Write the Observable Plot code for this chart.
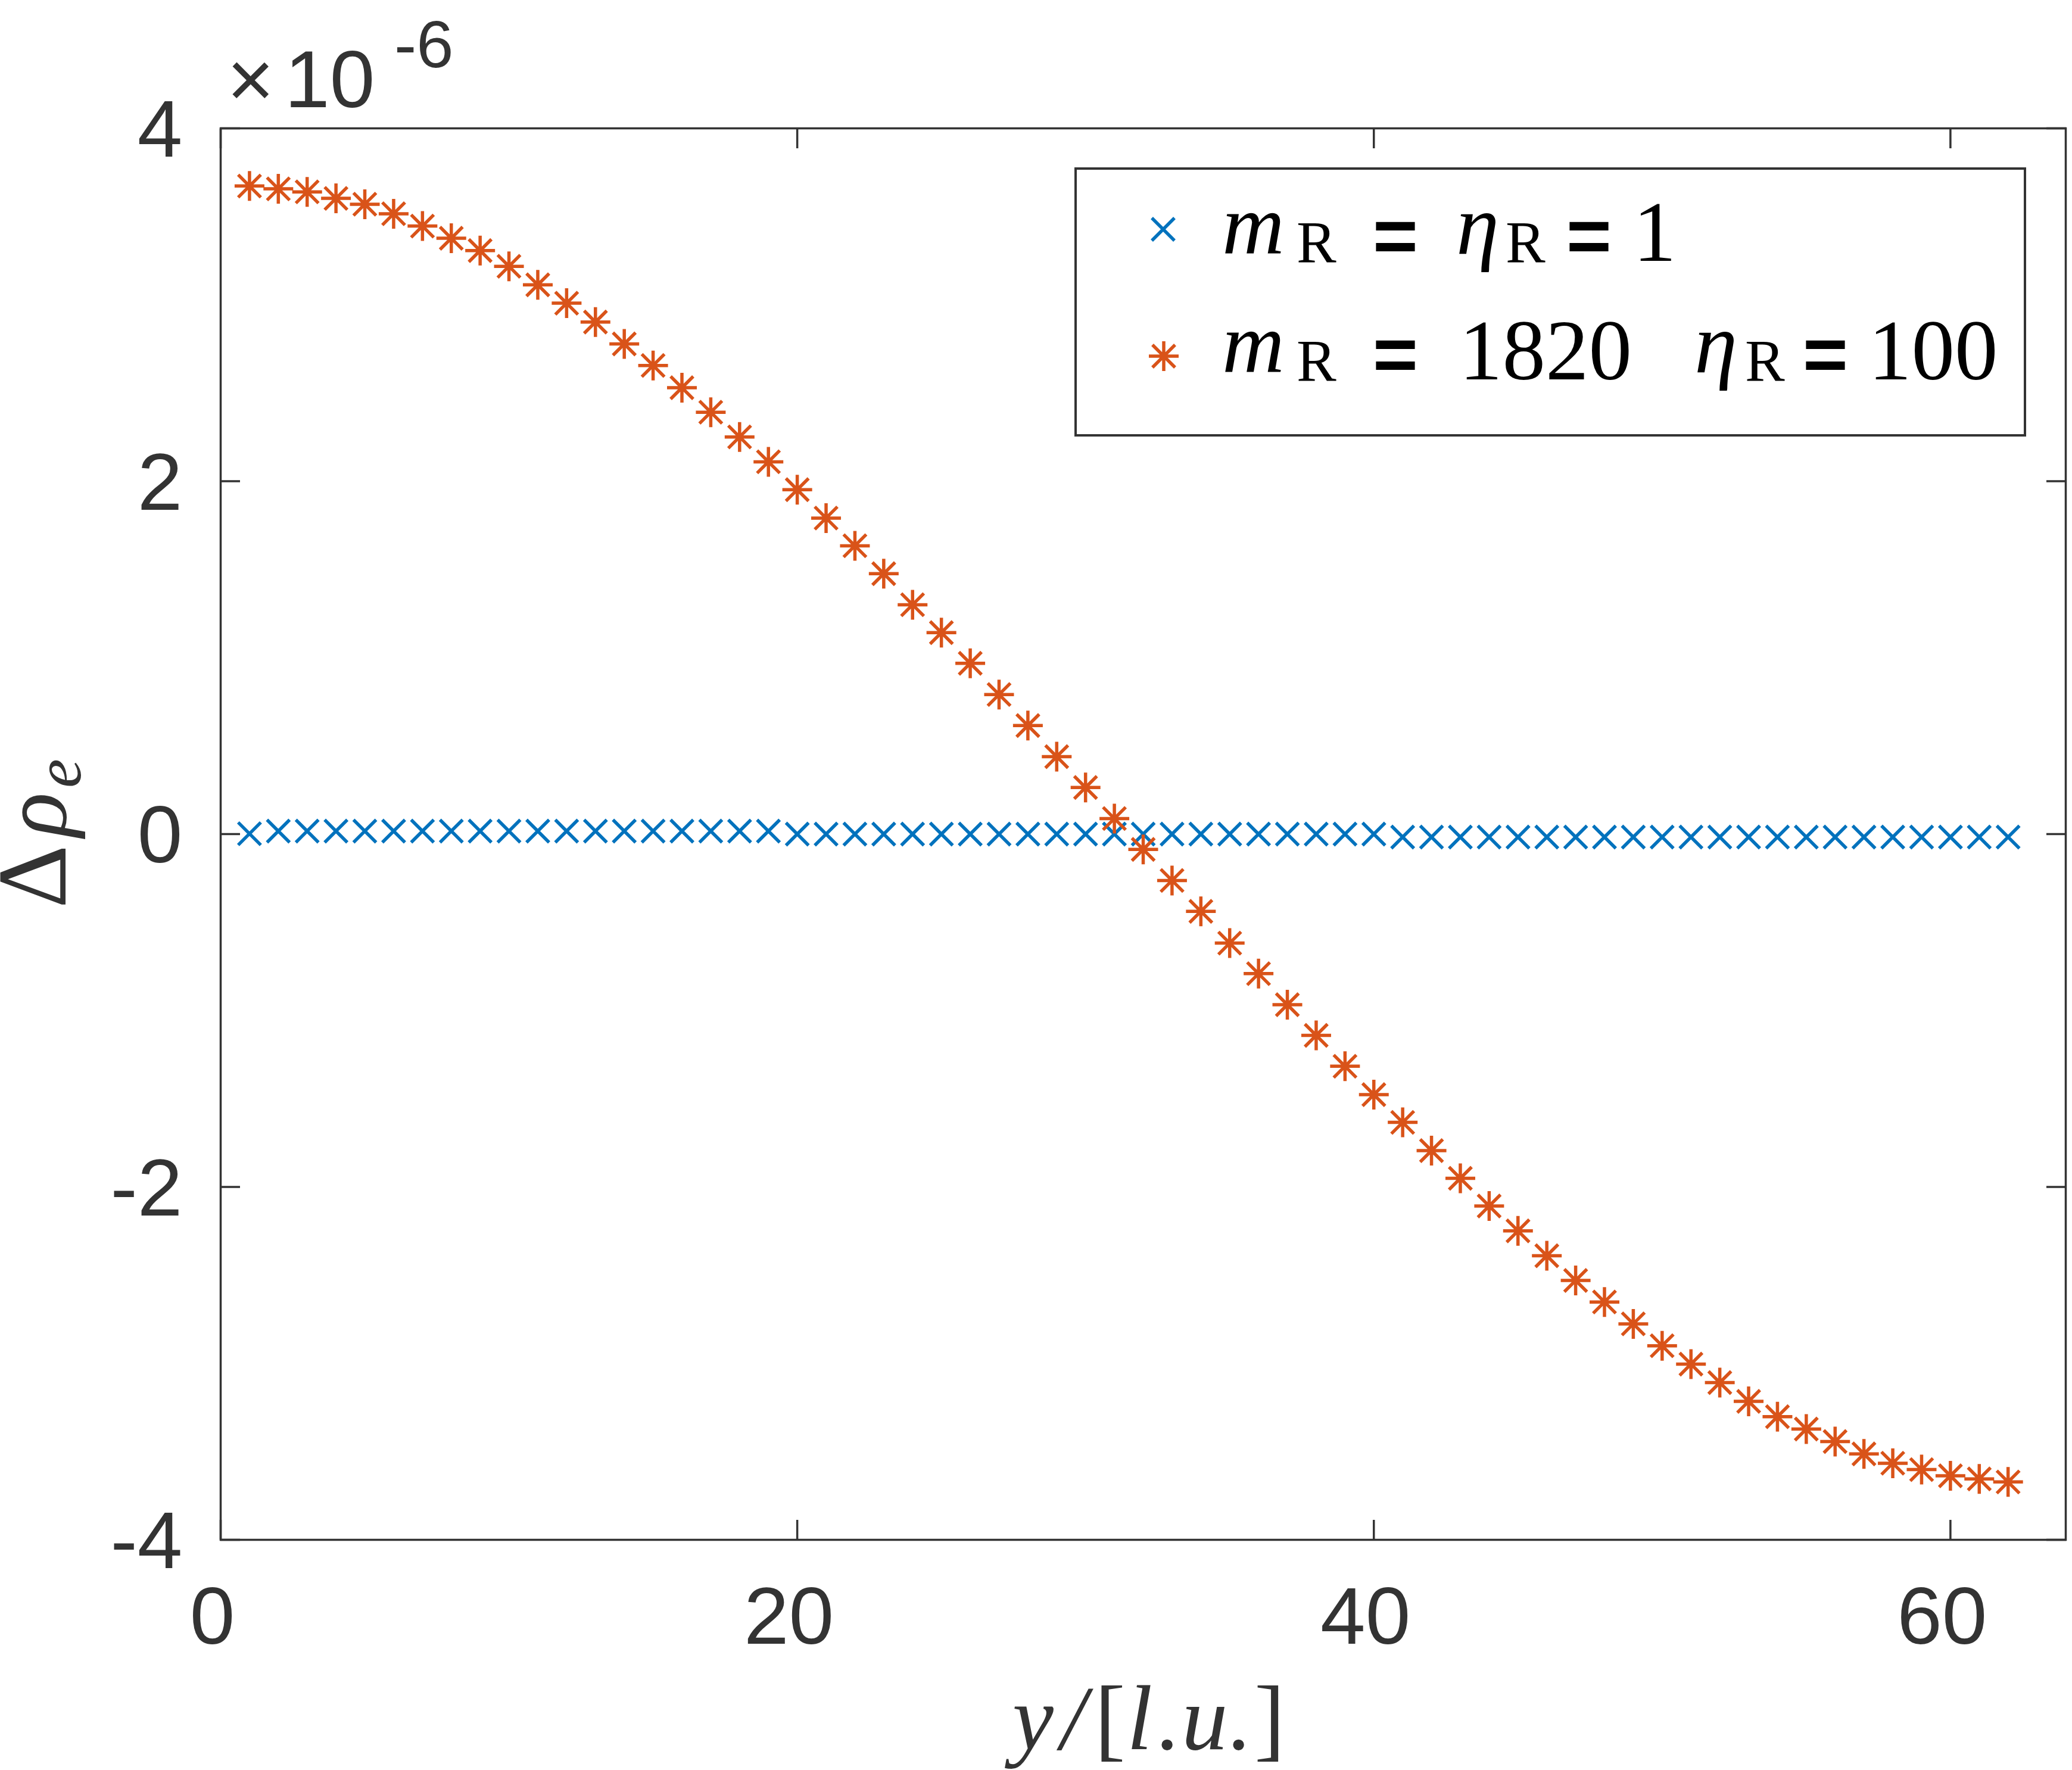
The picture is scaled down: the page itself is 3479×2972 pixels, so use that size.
<!DOCTYPE html>
<html><head><meta charset="utf-8">
<script src="https://cdn.jsdelivr.net/npm/d3@7"></script>
<script src="https://cdn.jsdelivr.net/npm/@observablehq/plot@0.6"></script>
<style>html,body{margin:0;padding:0;background:#fff;}</style>
</head><body><div id="chart"></div>
<script>
// ---- data (y values in units of 1e-6) ----
const yNodes = [1,2,3,4,5,6,7,8,9,10,11,12,13,14,15,16,17,18,19,20,21,22,23,24,25,26,27,28,29,30,31,
  32,33,34,35,36,37,38,39,40,41,42,43,44,45,46,47,48,49,50,51,52,53,54,55,56,57,58,59,60,61,62];
const seriesEqual = [0.002,0.017,0.017,0.017,0.017,0.017,0.017,0.017,0.017,0.017,0.017,0.017,0.017,0.017,0.017,0.017,0.017,0.017,0.017,
  0.0,0.0,0.0,0.0,0.0,0.0,0.0,0.0,0.0,0.0,0.0,0.0,0.0,0.0,0.0,0.0,0.0,0.0,0.0,0.0,0.0,
  -0.017,-0.017,-0.017,-0.017,-0.017,-0.017,-0.017,-0.017,-0.017,-0.017,-0.017,-0.017,-0.017,-0.017,-0.017,-0.017,-0.017,-0.017,-0.017,-0.017,-0.017,-0.017];
const seriesRatio = [3.673,3.657,3.640,3.603,3.570,3.516,3.446,3.377,3.307,3.218,3.113,3.009,2.902,2.778,2.656,2.530,
  2.391,2.251,2.110,1.952,1.791,1.634,1.476,1.300,1.142,0.968,0.791,0.615,0.439,0.264,0.088,
  -0.087,-0.263,-0.438,-0.618,-0.791,-0.967,-1.141,-1.316,-1.477,-1.634,-1.794,-1.951,-2.108,-2.249,-2.390,
  -2.530,-2.652,-2.776,-2.900,-3.004,-3.109,-3.215,-3.302,-3.372,-3.443,-3.513,-3.566,-3.602,-3.637,-3.655,-3.672];
const xTicks = [0,20,40,60];
const yTicks = [-4,-2,0,2,4];
const exponentLabel = "-6";

const blue = "#0072BD", orange = "#D95319", ink = "#333333";

const dataEqual = yNodes.map((x,i)=>({x, v: seriesEqual[i]}));
const dataRatio = yNodes.map((x,i)=>({x, v: seriesRatio[i]}));

const crossSymbol = {draw(ctx, size){ const r = Math.sqrt(size/Math.PI);
  ctx.moveTo(-r,-r); ctx.lineTo(r,r); ctx.moveTo(-r,r); ctx.lineTo(r,-r); }};
const starSymbol = {draw(ctx, size){ const r = Math.sqrt(size/Math.PI); const d = r*0.76;
  ctx.moveTo(-r,0); ctx.lineTo(r,0); ctx.moveTo(0,-r); ctx.lineTo(0,r);
  ctx.moveTo(-d,-d); ctx.lineTo(d,d); ctx.moveTo(-d,d); ctx.lineTo(d,-d); }};

// inward tick marks on all four sides (no text)
const tickOnly = {color: ink, strokeWidth: 3.5, tickSize: -33, fill: "none", label: null};
// tick labels only (no tick lines)
const textOnly = {color: ink, stroke: "none", tickSize: 0, label: null, tickFormat: d => String(d)};

const plot = Plot.plot({
  width: 3479, height: 2972,
  marginLeft: 370, marginRight: 11, marginTop: 215, marginBottom: 387,
  style: {fontFamily: "'Liberation Sans', Arial, sans-serif", fontSize: "136px", color: ink, background: "#fff"},
  x: {domain: [0, 64]},
  y: {domain: [-4, 4]},
  marks: [
    Plot.dot(dataEqual, {x: "x", y: "v", r: 19, symbol: crossSymbol, stroke: blue, strokeWidth: 5.5, fill: "none"}),
    Plot.dot(dataRatio, {x: "x", y: "v", r: 25, symbol: starSymbol, stroke: orange, strokeWidth: 5.5, fill: "none"}),
    Plot.axisX({...tickOnly, anchor: "bottom", ticks: xTicks}),
    Plot.axisX({...tickOnly, anchor: "top", ticks: xTicks}),
    Plot.axisY({...tickOnly, anchor: "left", ticks: yTicks}),
    Plot.axisY({...tickOnly, anchor: "right", ticks: yTicks}),
    Plot.axisX({...textOnly, anchor: "bottom", ticks: xTicks, tickPadding: 78, dx: -14}),
    Plot.axisY({...textOnly, anchor: "left", ticks: yTicks, tickPadding: 64, dy: 4}),
    Plot.frame({stroke: ink, strokeWidth: 3.5})
  ]
});
document.getElementById("chart").appendChild(plot);

const svg = d3.select(plot);
const serif = "'Liberation Serif', 'Times New Roman', serif";
const sans = "'Liberation Sans', Arial, sans-serif";

// exponent multiplier
const ex = svg.append("text").attr("fill", ink).attr("font-family", sans).attr("text-anchor", "start");
ex.append("tspan").attr("x", 381).attr("y", 180).attr("font-size", 136).text("×");
ex.append("tspan").attr("x", 478).attr("y", 180).attr("font-size", 136).text("10");
ex.append("tspan").attr("x", 662).attr("y", 113).attr("font-size", 112).text(exponentLabel);

// x-axis label
const xl = svg.append("text").attr("fill", ink).attr("font-family", serif).attr("font-size", 155)
  .attr("y", 2937).attr("text-anchor", "start");
[["y", 1700, "italic"], ["/", 1781, "italic"], ["[", 1838, "normal"], ["l", 1892, "italic"], [".", 1944, "italic"],
 ["u", 1984, "italic"], [".", 2064, "italic"], ["]", 2106, "normal"]].forEach(([t, x, s]) =>
  xl.append("tspan").attr("x", x).attr("y", 2937).attr("font-style", s).text(t));

// y-axis label (rotated)
const yl = svg.append("text").attr("fill", ink).attr("font-family", serif).attr("text-anchor", "start")
  .attr("transform", "translate(110,1525) rotate(-90)");
yl.append("tspan").attr("x", 0).attr("y", 0).attr("font-size", 165).text("Δ");
yl.append("tspan").attr("x", 120).attr("y", 0).attr("font-size", 155).attr("font-style", "italic").text("ρ");
yl.append("tspan").attr("x", 202).attr("y", 25).attr("font-size", 110).attr("font-style", "italic").text("e");

// legend
const lg = svg.append("g");
lg.append("rect").attr("x", 1806).attr("y", 283).attr("width", 1594).attr("height", 448)
  .attr("fill", "#fff").attr("stroke", ink).attr("stroke-width", 4);
lg.append("path").attr("transform", "translate(1953,385)").attr("d", d3.symbol(crossSymbol, Math.PI*19*19)())
  .attr("fill", "none").attr("stroke", blue).attr("stroke-width", 5.5);
lg.append("path").attr("transform", "translate(1954,598)").attr("d", d3.symbol(starSymbol, Math.PI*25*25)())
  .attr("fill", "none").attr("stroke", orange).attr("stroke-width", 5.5);

function legendRow(D, tokens) {
  const t = lg.append("text").attr("fill", "#000").attr("text-anchor", "start");
  tokens.forEach(([txt, x, kind]) => {
    const s = t.append("tspan").attr("x", x).text(txt);
    if (kind === "var") s.attr("font-family", serif).attr("font-style", "italic").attr("font-size", 145).attr("y", D - 12);
    else if (kind === "sub") s.attr("font-family", serif).attr("font-size", 100).attr("y", D + 2);
    else if (kind === "eq") s.attr("font-family", sans).attr("font-weight", "bold").attr("font-size", 130).attr("y", D + 2);
    else s.attr("font-family", serif).attr("font-size", 145).attr("y", D);
  });
}
legendRow(438, [["m", 2052, "var"], ["R", 2177, "sub"], ["=", 2305, "eq"], ["η", 2445, "var"],
  ["R", 2528, "sub"], ["=", 2630, "eq"], ["1", 2742, "num"]]);
legendRow(637, [["m", 2052, "var"], ["R", 2177, "sub"], ["=", 2305, "eq"], ["1820", 2450, "num"],
  ["η", 2845, "var"], ["R", 2930, "sub"], ["=", 3027, "eq"], ["100", 3137, "num"]]);
</script>
</body></html>
